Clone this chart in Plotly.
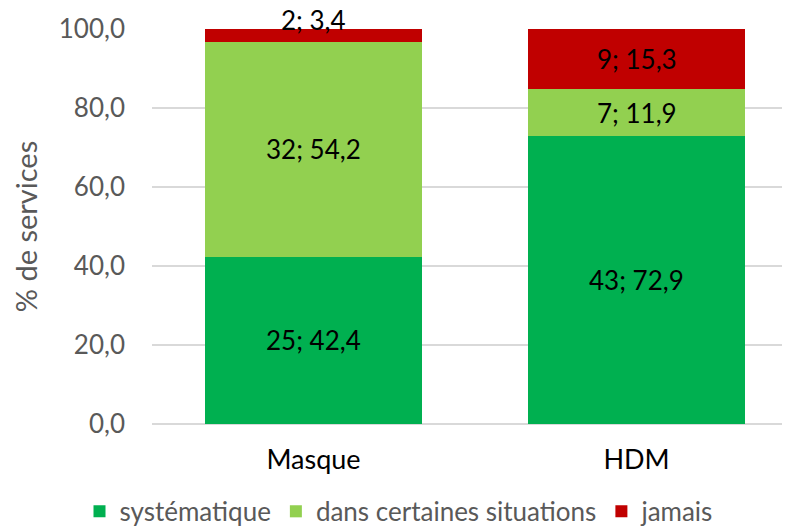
import plotly.graph_objects as go

categories = ["Masque", "HDM"]
series_names = ["systématique", "dans certaines situations", "jamais"]
counts = {
    "systématique": [25, 43],
    "dans certaines situations": [32, 7],
    "jamais": [2, 9],
}
percents = {
    "systématique": [42.4, 72.9],
    "dans certaines situations": [54.2, 11.9],
    "jamais": [3.4, 15.3],
}
colors = {
    "systématique": "#00B050",
    "dans certaines situations": "#92D050",
    "jamais": "#C00000",
}
tick_vals = [0, 20, 40, 60, 80, 100]
tick_text = ["0,0", "20,0", "40,0", "60,0", "80,0", "100,0"]

FONT = "Lato"
fig = go.Figure()
for s in series_names:
    fig.add_trace(go.Bar(
        x=categories, y=percents[s], name=s,
        marker=dict(color=colors[s], line=dict(width=0)),
        width=0.67,
    ))

def fmt(v):
    return f"{v:.1f}".replace(".", ",")

annotations = []
for i, c in enumerate(categories):
    base = 0
    for s in series_names:
        p = percents[s][i]
        mid = base + p / 2
        shift = 0
        if p < 5:
            shift = 16
        annotations.append(dict(
            x=c, y=mid, text=f"{counts[s][i]}; {fmt(p)}",
            showarrow=False, yshift=shift,
            font=dict(family=FONT, size=26, color="#000000"),
        ))
        base += p

fig.update_layout(
    barmode="stack",
    width=782, height=519,
    margin=dict(l=144, r=0, t=21, b=103),
    plot_bgcolor="white", paper_bgcolor="white",
    font=dict(family=FONT, color="#595959"),
    annotations=annotations,
    legend=dict(
        orientation="h", x=0.5, xanchor="center", xref="container",
        y=0.03, yanchor="middle", yref="container",
        font=dict(family=FONT, size=26, color="#595959"),
        traceorder="normal", itemwidth=30,
    ),
    showlegend=True,
)
fig.update_xaxes(
    range=[-0.5, 1.475], showgrid=False, showline=False, ticks="",
    tickfont=dict(family=FONT, size=27, color="#000000"),
    ticklabelstandoff=17,
)
fig.update_yaxes(
    range=[0, 100], tickvals=tick_vals, ticktext=tick_text,
    showgrid=True, gridcolor="#D9D9D9", gridwidth=1.5,
    zeroline=True, zerolinecolor="#D9D9D9", zerolinewidth=1.5,
    tickfont=dict(family=FONT, size=26, color="#595959"),
    ticklabelstandoff=26,
    title=dict(text="% de services", font=dict(family=FONT, size=29, color="#595959"), standoff=12),
)
fig.write_html("out.html")
